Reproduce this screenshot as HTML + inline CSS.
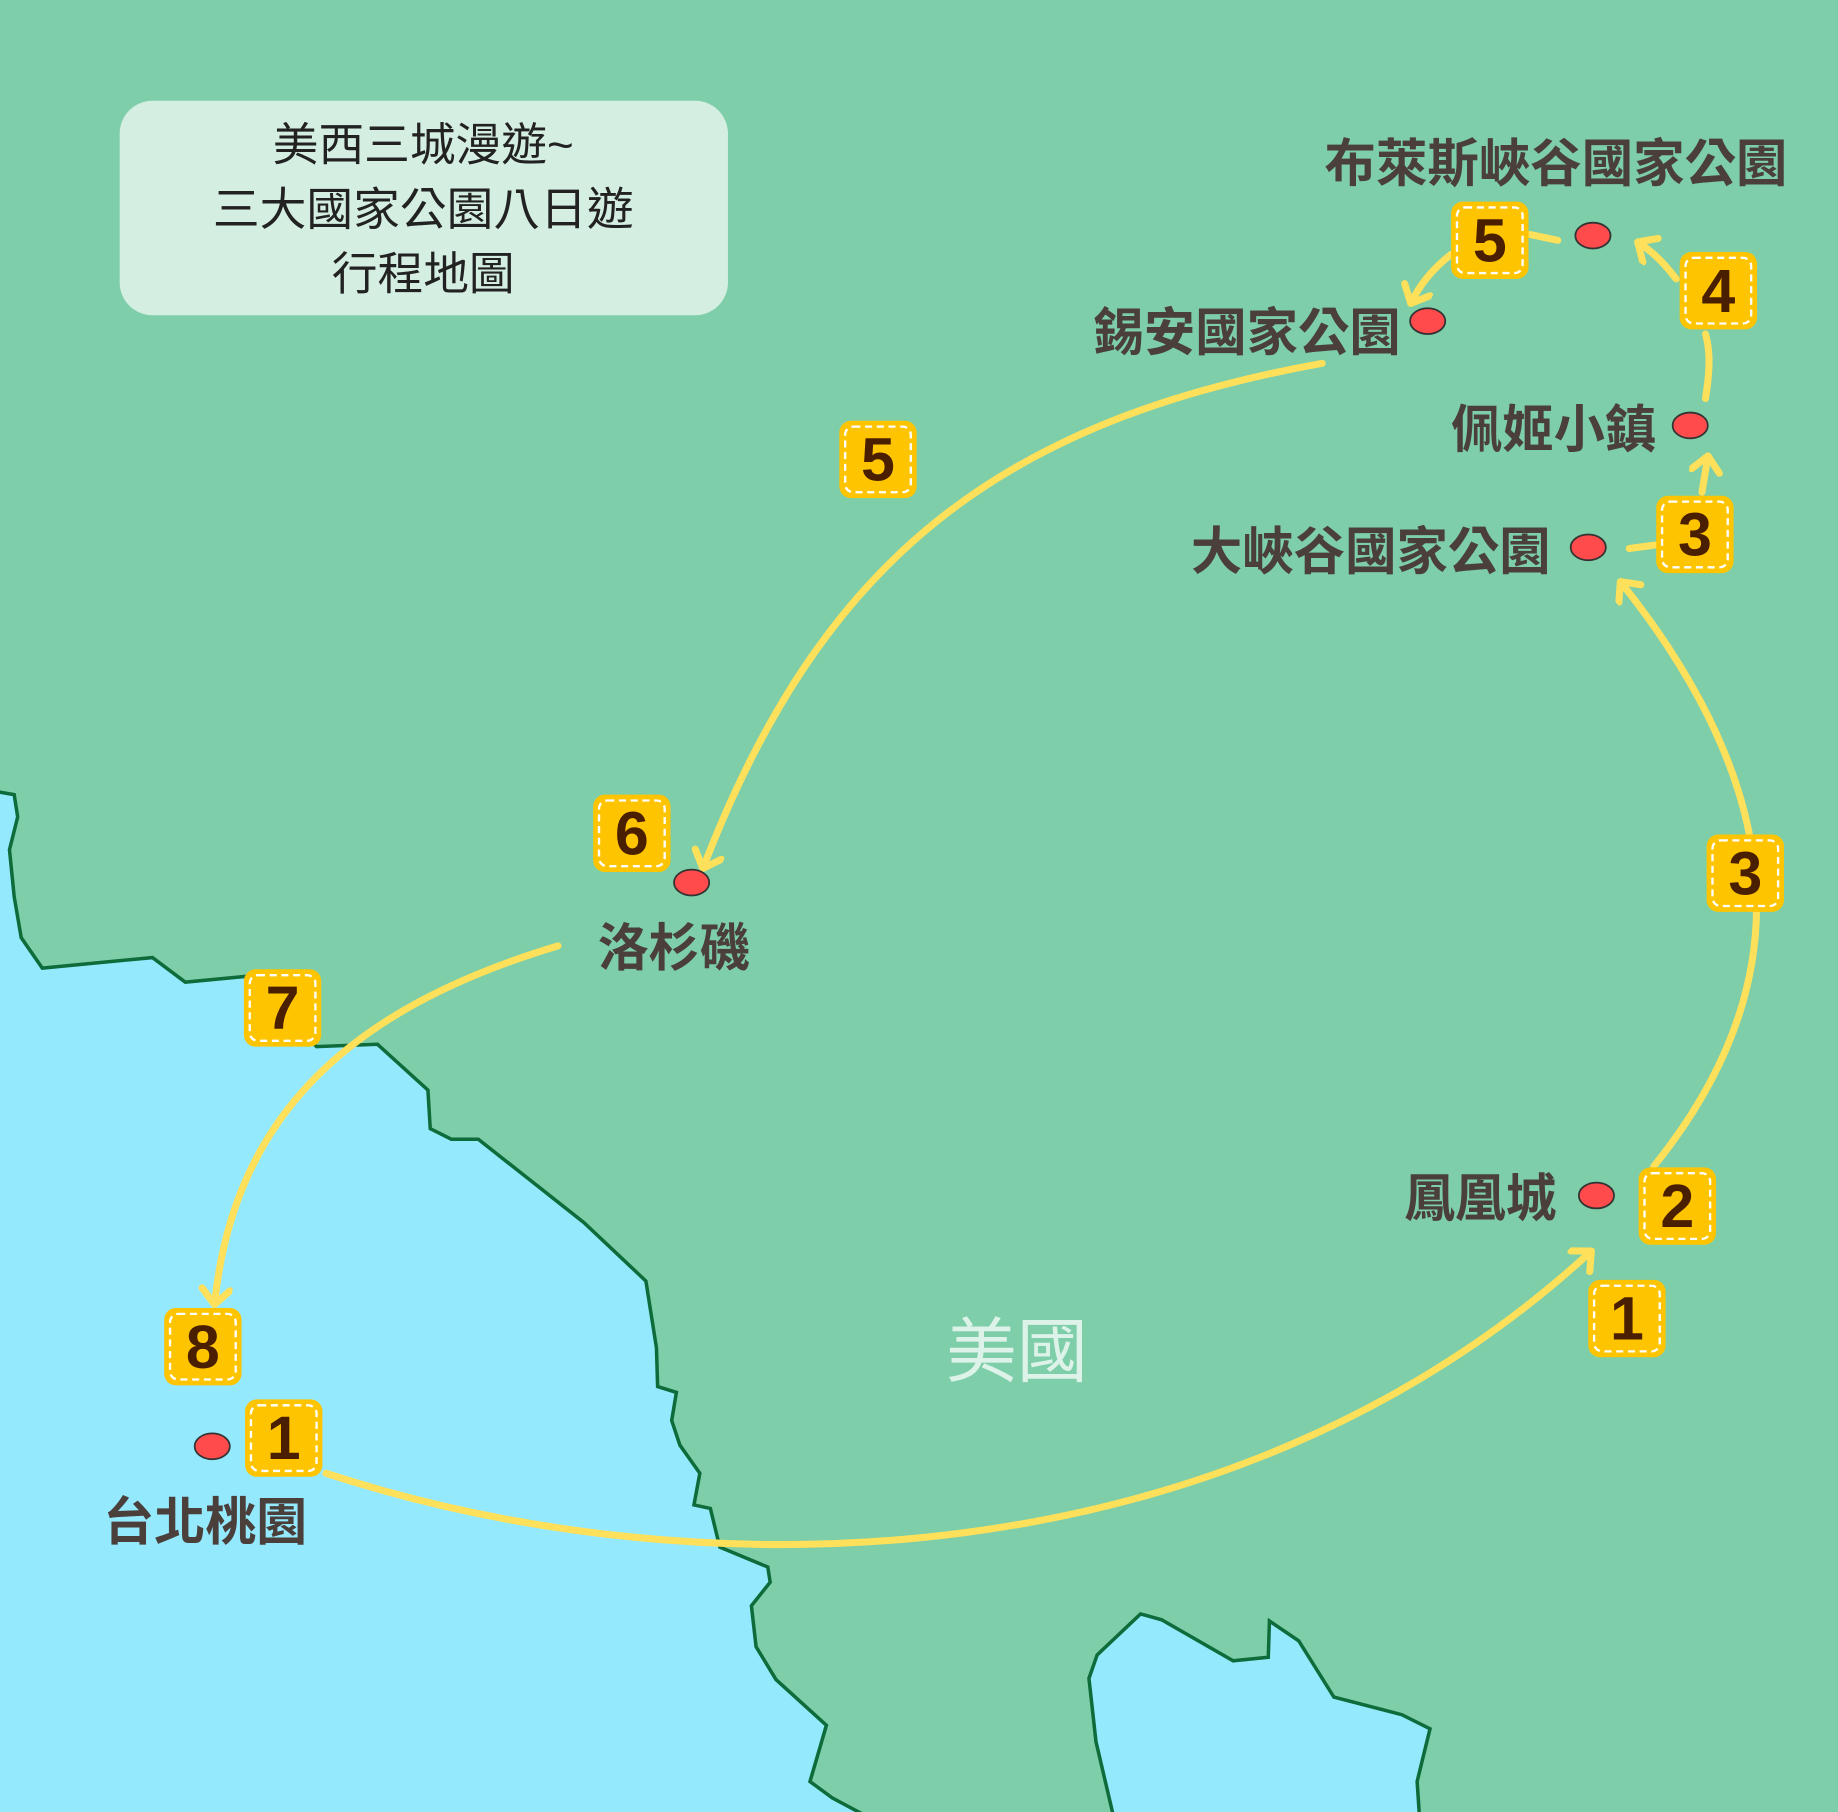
<!DOCTYPE html>
<html><head><meta charset="utf-8"><style>html,body{margin:0;padding:0;background:#7DCEA9}svg{display:block}</style></head><body>
<svg width="1838" height="1812" viewBox="0 0 1568 1546" xmlns="http://www.w3.org/2000/svg" font-family="'Liberation Sans','Noto Sans CJK TC',sans-serif">
<defs>
<marker id="ah" markerUnits="userSpaceOnUse" markerWidth="40" markerHeight="40" refX="18" refY="14" orient="auto" viewBox="0 0 40 40">
<path d="M6,2 L19,14 L6,26" fill="none" stroke="#FFE05A" stroke-width="6" stroke-linecap="round" stroke-linejoin="round"/>
</marker>
</defs>
<rect width="1568" height="1546" fill="#7DCEA9"/>
<path d="M-5,675 L12,678 L15,697 L8,725 L12,765 L18,800 L36,826 L130,817 L158,838 L210,833 L270,893 L322,891 L365,930 L367,963 L385,972 L408,972 L498,1043 L551,1093 L560,1150 L561,1183 L577,1188 L573,1212 L580,1233 L597,1257 L592,1284 L606,1287 L614,1320 L655,1337 L657,1350 L641,1370 L645,1405 L662,1433 L705,1472 L691,1520 L710,1534 L740,1550 L-5,1550 Z" fill="#95E9FD" stroke="#0E6B3A" stroke-width="3"/>
<path d="M950,1550 L935,1486 L929,1432 L936,1412 L973,1377 L991,1382 L1052,1417 L1082,1414 L1083,1383 L1108,1400 L1138,1448 L1196,1463 L1220,1475 L1209,1520 L1211,1550 Z" fill="#95E9FD" stroke="#0E6B3A" stroke-width="3"/>

<rect x="102" y="86" width="519" height="183" rx="28" fill="#D4EEE1"/>
<g font-size="39" fill="#222" text-anchor="middle">
<text x="361" y="137">美西三城漫遊~</text>
<text x="361" y="192" textLength="359" lengthAdjust="spacingAndGlyphs">三大國家公園八日遊</text>
<text x="361" y="247">行程地圖</text>
</g>

<g fill="none" stroke="#FFE05A" stroke-width="6" stroke-linecap="round">
<path d="M278,1257 C600,1362 1050,1350 1357,1068" marker-end="url(#ah)"/>
<path d="M1411,995 C1520,860 1545,700 1383,497" marker-end="url(#ah)"/>
<path d="M1390,468 L1412,465"/>
<path d="M1452,420 L1457,390" marker-end="url(#ah)"/>
<path d="M1455,340 C1460,310 1458,295 1455,285"/>
<path d="M1430,238 Q1415,218 1398,207" marker-end="url(#ah)"/>
<path d="M1329,205 L1305,200"/>
<path d="M1238,217 Q1215,235 1204,258" marker-end="url(#ah)"/>
<path d="M1128,310 C850,360 700,480 600,740" marker-end="url(#ah)"/>
<path d="M476,807 C300,860 200,950 183,1112" marker-end="url(#ah)"/>
</g>

<g fill="#FF4B4B" stroke="#333" stroke-width="1.5">
<ellipse cx="1359" cy="201" rx="15" ry="11"/>
<ellipse cx="1218" cy="274" rx="15" ry="11"/>
<ellipse cx="1442" cy="363" rx="15" ry="11"/>
<ellipse cx="1355" cy="467" rx="15" ry="11"/>
<ellipse cx="590" cy="753" rx="15" ry="11"/>
<ellipse cx="1362" cy="1020" rx="15" ry="11"/>
<ellipse cx="181" cy="1234" rx="15" ry="11"/>
</g>

<g font-size="44" font-weight="bold" fill="#4A3F3A">
<text x="1130" y="155" textLength="395" lengthAdjust="spacingAndGlyphs">布萊斯峽谷國家公園</text>
<text x="932" y="299" textLength="263" lengthAdjust="spacingAndGlyphs">錫安國家公園</text>
<text x="1238" y="382" textLength="175" lengthAdjust="spacingAndGlyphs">佩姬小鎮</text>
<text x="1016" y="486" textLength="307" lengthAdjust="spacingAndGlyphs">大峽谷國家公園</text>
<text x="510" y="824" textLength="130" lengthAdjust="spacingAndGlyphs">洛杉磯</text>
<text x="1198" y="1038" textLength="130" lengthAdjust="spacingAndGlyphs">鳳凰城</text>
<text x="88" y="1314" textLength="174" lengthAdjust="spacingAndGlyphs">台北桃園</text>
</g>
<text x="807" y="1174" font-size="60" fill="#DDF2E8" textLength="121" lengthAdjust="spacingAndGlyphs">美國</text>

<g font-size="52" font-weight="900" fill="#4A1F00" text-anchor="middle">
<g transform="translate(1271,205)"><rect x="-33" y="-33" width="66" height="66" rx="10" fill="#FFC400"/><rect x="-28" y="-28" width="56" height="56" rx="7" fill="none" stroke="#fff" stroke-width="2" stroke-dasharray="6,4"/><text y="18">5</text></g>
<g transform="translate(1466,248)"><rect x="-33" y="-33" width="66" height="66" rx="10" fill="#FFC400"/><rect x="-28" y="-28" width="56" height="56" rx="7" fill="none" stroke="#fff" stroke-width="2" stroke-dasharray="6,4"/><text y="18">4</text></g>
<g transform="translate(1446,456)"><rect x="-33" y="-33" width="66" height="66" rx="10" fill="#FFC400"/><rect x="-28" y="-28" width="56" height="56" rx="7" fill="none" stroke="#fff" stroke-width="2" stroke-dasharray="6,4"/><text y="18">3</text></g>
<g transform="translate(749,392)"><rect x="-33" y="-33" width="66" height="66" rx="10" fill="#FFC400"/><rect x="-28" y="-28" width="56" height="56" rx="7" fill="none" stroke="#fff" stroke-width="2" stroke-dasharray="6,4"/><text y="18">5</text></g>
<g transform="translate(539,711)"><rect x="-33" y="-33" width="66" height="66" rx="10" fill="#FFC400"/><rect x="-28" y="-28" width="56" height="56" rx="7" fill="none" stroke="#fff" stroke-width="2" stroke-dasharray="6,4"/><text y="18">6</text></g>
<g transform="translate(1489,745)"><rect x="-33" y="-33" width="66" height="66" rx="10" fill="#FFC400"/><rect x="-28" y="-28" width="56" height="56" rx="7" fill="none" stroke="#fff" stroke-width="2" stroke-dasharray="6,4"/><text y="18">3</text></g>
<g transform="translate(241,860)"><rect x="-33" y="-33" width="66" height="66" rx="10" fill="#FFC400"/><rect x="-28" y="-28" width="56" height="56" rx="7" fill="none" stroke="#fff" stroke-width="2" stroke-dasharray="6,4"/><text y="18">7</text></g>
<g transform="translate(1431,1029)"><rect x="-33" y="-33" width="66" height="66" rx="10" fill="#FFC400"/><rect x="-28" y="-28" width="56" height="56" rx="7" fill="none" stroke="#fff" stroke-width="2" stroke-dasharray="6,4"/><text y="18">2</text></g>
<g transform="translate(1388,1125)"><rect x="-33" y="-33" width="66" height="66" rx="10" fill="#FFC400"/><rect x="-28" y="-28" width="56" height="56" rx="7" fill="none" stroke="#fff" stroke-width="2" stroke-dasharray="6,4"/><text y="18">1</text></g>
<g transform="translate(173,1149)"><rect x="-33" y="-33" width="66" height="66" rx="10" fill="#FFC400"/><rect x="-28" y="-28" width="56" height="56" rx="7" fill="none" stroke="#fff" stroke-width="2" stroke-dasharray="6,4"/><text y="18">8</text></g>
<g transform="translate(242,1227)"><rect x="-33" y="-33" width="66" height="66" rx="10" fill="#FFC400"/><rect x="-28" y="-28" width="56" height="56" rx="7" fill="none" stroke="#fff" stroke-width="2" stroke-dasharray="6,4"/><text y="18">1</text></g>
</g>
</svg>
</body></html>
